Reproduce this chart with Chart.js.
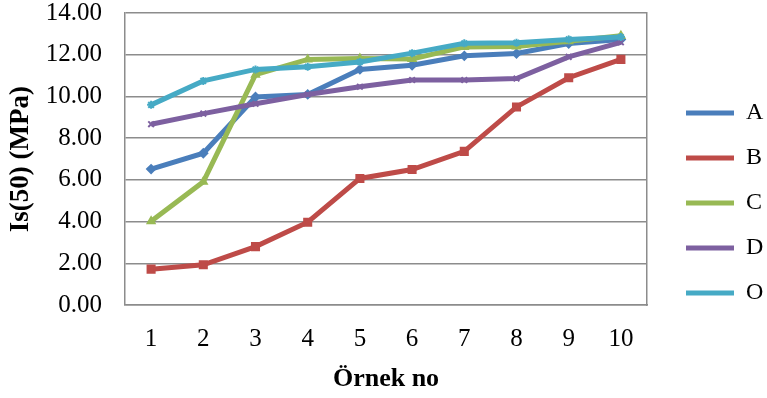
<!DOCTYPE html>
<html>
<head>
<meta charset="utf-8">
<script src="https://cdn.jsdelivr.net/npm/chart.js@4"></script>
<style>
  html, body { margin: 0; padding: 0; background: #fff; }
  #wrap { width: 767px; height: 398px; }
</style>
</head>
<body>
<div id="wrap"><canvas id="chart"></canvas></div>
<script>
const samples = ["1", "2", "3", "4", "5", "6", "7", "8", "9", "10"];
const seriesA = [6.52, 7.28, 9.98, 10.1, 11.3, 11.5, 11.95, 12.06, 12.54, 12.74];
const seriesB = [1.72, 1.93, 2.8, 3.97, 6.07, 6.5, 7.37, 9.5, 10.9, 11.78];
const seriesC = [4.02, 5.91, 11.05, 11.78, 11.82, 11.8, 12.38, 12.4, 12.65, 12.92];
const seriesD = [8.67, 9.18, 9.65, 10.1, 10.47, 10.79, 10.79, 10.86, 11.9, 12.6];
const seriesO = [9.6, 10.75, 11.3, 11.43, 11.66, 12.08, 12.55, 12.58, 12.74, 12.85];

const font = "'Liberation Serif', 'Times New Roman', serif";
const gridGray = "#8c8c8c";

function series(label, data, color, style, radius, order) {
  return {
    label, data, order,
    borderColor: color,
    backgroundColor: color,
    borderWidth: 5,
    pointStyle: style,
    pointRadius: radius,
    pointBorderWidth: 2,
    pointBorderColor: color,
    pointBackgroundColor: color,
    tension: 0
  };
}

new Chart(document.getElementById("chart"), {
  type: "line",
  data: {
    labels: samples,
    datasets: [
      series("A", seriesA, "#4a7ebb", "rectRot", 4, 4),
      series("B", seriesB, "#be4b48", "rect", 5, 3),
      series("C", seriesC, "#98b954", "triangle", 4, 2),
      series("D", seriesD, "#7d60a0", "crossRot", 4, 1),
      series("O", seriesO, "#46aac5", "star", 4, 0)
    ]
  },
  options: {
    responsive: true,
    maintainAspectRatio: false,
    animation: false,
    layout: { padding: 0 },
    plugins: {
      tooltip: { enabled: false },
      legend: {
        position: "right",
        maxWidth: 102,
        // empty title only nudges the legend items down a little
        title: { display: true, text: "", font: { size: 5 }, padding: 1 },
        labels: {
          font: { family: font, size: 24 },
          color: "#000",
          boxWidth: 48,
          boxHeight: 5,
          padding: 21,
          sort: (a, b) => a.datasetIndex - b.datasetIndex,
          generateLabels: chart => {
            const items = Chart.defaults.plugins.legend.labels.generateLabels(chart);
            items.forEach(it => { it.lineWidth = 0; });
            return items;
          }
        }
      }
    },
    scales: {
      x: {
        offset: true,
        grid: { display: false, drawTicks: false },
        border: { color: gridGray, width: 1.5 },
        ticks: { font: { family: font, size: 25 }, color: "#000", padding: 19, maxRotation: 0 },
        title: {
          display: true, text: "Örnek no", color: "#000",
          font: { family: font, size: 26, weight: "bold" },
          padding: { top: 0, bottom: 3 }
        },
        afterFit: s => { s.height = 93; }
      },
      y: {
        min: 0, max: 14,
        grid: { color: gridGray, lineWidth: 1.5, drawTicks: true, tickLength: 23, tickColor: "rgba(0,0,0,0)" },
        border: { color: gridGray, width: 1.5 },
        ticks: {
          stepSize: 2,
          font: { family: font, size: 25, lineHeight: 1.05 }, color: "#000", padding: 0,
          callback: v => v.toFixed(2)
        },
        title: {
          display: true, text: "Is(50) (MPa)", color: "#000",
          font: { family: font, size: 27, weight: "bold" },
          padding: { top: 5, bottom: 0 }
        },
        afterFit: s => { s.width = 125; }
      },
      y2: {
        position: "right",
        display: true,
        grid: { display: false, drawTicks: false },
        border: { display: true, color: gridGray, width: 1.5 },
        ticks: { display: false },
        afterFit: s => { s.width = 18; }
      }
    }
  }
});
</script>
</body>
</html>
